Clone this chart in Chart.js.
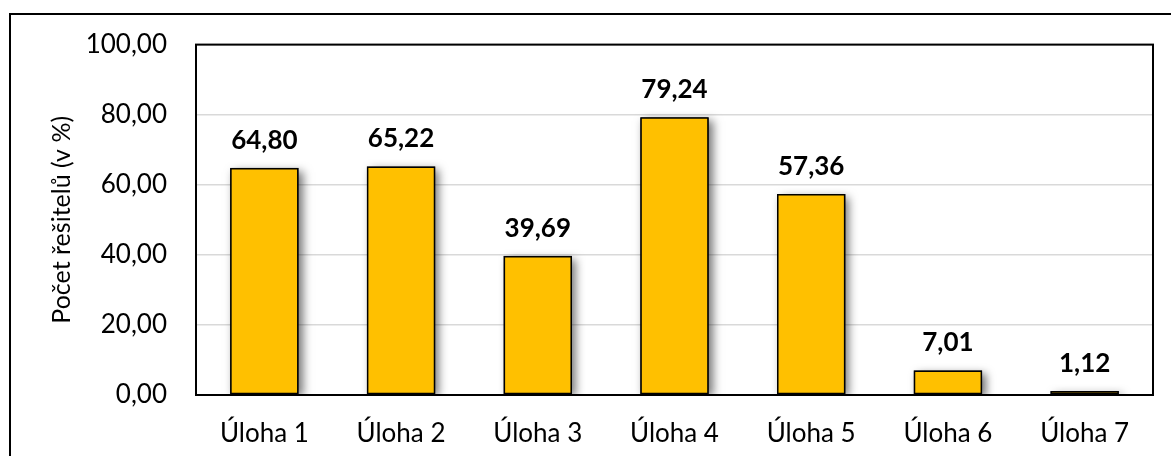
<!DOCTYPE html>
<html>
<head>
<meta charset="utf-8">
<script src="https://cdn.jsdelivr.net/npm/chart.js@4"></script>
<style>
html,body{margin:0;padding:0;background:#fff;}
#wrap{width:1171px;height:456px;position:relative;}
</style>
</head>
<body>
<div id="wrap"><canvas id="c" width="1171" height="456"></canvas></div>
<script>
const categories = ["Úloha 1","Úloha 2","Úloha 3","Úloha 4","Úloha 5","Úloha 6","Úloha 7"];
const values = [64.80, 65.22, 39.69, 79.24, 57.36, 7.01, 1.12];
const yTicks = [0, 20, 40, 60, 80, 100];
const yTitle = "Počet řešitelů (v %)";

const FONT = "Lato, 'Open Sans', sans-serif";
const fmt = v => Number(v).toFixed(2).replace('.', ',');

const frame = {
  id: 'frame',
  beforeDraw(chart) {
    const ctx = chart.ctx;
    ctx.save();
    ctx.fillStyle = '#fff';
    ctx.fillRect(0, 0, chart.width, chart.height);
    ctx.strokeStyle = '#000';
    ctx.lineWidth = 2;
    ctx.beginPath();
    ctx.moveTo(10, chart.height + 5);
    ctx.lineTo(10, 14);
    ctx.lineTo(chart.width + 5, 14);
    ctx.stroke();
    ctx.restore();
  },
  afterDraw(chart) {
    const a = chart.chartArea;
    const ctx = chart.ctx;
    ctx.save();
    ctx.strokeStyle = '#000';
    ctx.lineWidth = 2;
    ctx.strokeRect(a.left, a.top, a.right - a.left, a.bottom - a.top);
    ctx.restore();
  }
};

const shadow = {
  id: 'shadow',
  beforeDatasetsDraw(chart) {
    const ctx = chart.ctx;
    const a = chart.chartArea;
    ctx.save();
    ctx.beginPath();
    ctx.rect(a.left, a.top, a.right - a.left, a.bottom - a.top);
    ctx.clip();
    ctx.shadowColor = 'rgba(0,0,0,0.55)';
    ctx.shadowBlur = 9;
    ctx.shadowOffsetX = 4;
    ctx.shadowOffsetY = 3;
    ctx.fillStyle = '#000';
    const meta = chart.getDatasetMeta(0);
    meta.data.forEach(el => {
      const p = el.getProps(['x', 'y', 'base', 'width'], true);
      ctx.fillRect(p.x - p.width / 2, p.y, p.width, p.base - p.y);
    });
    ctx.restore();
  },
  afterDatasetsDraw(chart) {
    const ctx = chart.ctx;
    ctx.save();
    ctx.font = "bold 26px " + FONT;
    ctx.fillStyle = '#000';
    ctx.textAlign = 'center';
    ctx.textBaseline = 'alphabetic';
    const meta = chart.getDatasetMeta(0);
    meta.data.forEach((el, i) => {
      ctx.fillText(fmt(chart.data.datasets[0].data[i]), el.x, el.y - 19);
    });
    ctx.restore();
  }
};

new Chart(document.getElementById('c'), {
  type: 'bar',
  data: {
    labels: categories,
    datasets: [{
      data: values,
      backgroundColor: '#FFC000',
      borderColor: '#000',
      borderWidth: 1.5,
      borderSkipped: false,
      categoryPercentage: 1,
      barPercentage: 0.5
    }]
  },
  options: {
    responsive: false,
    animation: false,
    devicePixelRatio: 1,
    layout: { padding: { left: 0, top: 44, right: 18, bottom: 0 } },
    plugins: { legend: { display: false }, tooltip: { enabled: false } },
    scales: {
      x: {
        grid: { display: false, drawTicks: false },
        border: { display: false },
        ticks: { color: '#000', font: { family: FONT, size: 26 }, padding: 23, maxRotation: 0 },
        afterFit(s) { s.height = 61; }
      },
      y: {
        min: 0, max: 100,
        afterBuildTicks(s) { s.ticks = yTicks.map(v => ({ value: v })); },
        grid: { color: '#d9d9d9', lineWidth: 1.5, drawTicks: false },
        border: { display: false },
        ticks: { color: '#000', font: { family: FONT, size: 26 }, padding: 29, callback: v => fmt(v) },
        title: { display: true, text: yTitle, color: '#000', font: { family: FONT, size: 25 }, padding: { top: 47, bottom: 0 } },
        afterFit(s) { s.width = 196; }
      }
    }
  },
  plugins: [frame, shadow]
});
</script>
</body>
</html>
